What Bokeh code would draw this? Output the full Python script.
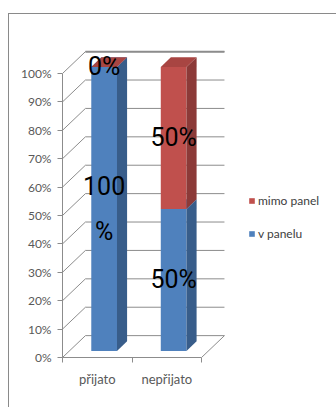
from bokeh.plotting import figure
from bokeh.models import (Range1d, FixedTicker, NumeralTickFormatter, Legend, LegendItem,
                          InlineStyleSheet)
from bokeh.core.properties import value
from bokeh.embed import file_html
from bokeh.resources import INLINE

# ---- data ----
categories = ["přijato", "nepřijato"]
series_names = ["v panelu", "mimo panel"]
v_panelu = [1.0, 0.5]
mimo_panel = [0.0, 0.5]
y_ticks = [0.0, 0.1, 0.2, 0.3, 0.4, 0.5, 0.6, 0.7, 0.8, 0.9, 1.0]

# ---- styles ----
FRONT = {"v panelu": "#4F81BD", "mimo panel": "#C0504D"}
SIDE = {"v panelu": "#385D8A", "mimo panel": "#8C3A38"}
TOP = {"v panelu": "#5A8AC6", "mimo panel": "#A84542"}
GRID = "#8C8C8C"
DX, DY = 0.33, 0.077      # wall depth (data units)
F1, F2 = 0.30, 0.74       # bar front/back depth fractions
BW = 0.37                 # bar width
LABEL_FONT = value("Roboto")

p = figure(width=336, height=407, output_backend="svg", toolbar_location=None,
           x_range=Range1d(0, 3.942), y_range=Range1d(0, 1.1514),
           min_border_left=62, min_border_right=0, min_border_top=30, min_border_bottom=50)
p.outline_line_color = None
p.grid.visible = False
p.background_fill_color = "white"
p.border_fill_color = "white"

n = len(categories)

# ---- walls & floor ----
wx0, wy0, wx1, wy1 = [], [], [], []
for v in y_ticks:
    wx0.append(0); wy0.append(v); wx1.append(DX); wy1.append(v + DY)            # side wall diagonal
for v in y_ticks:
    wx0.append(DX); wy0.append(v + DY); wx1.append(n + DX); wy1.append(v + DY)  # back wall gridline
wx0.append(n); wy0.append(0); wx1.append(n + DX); wy1.append(DY)               # floor right edge
p.segment(wx0, wy0, wx1, wy1, line_color=GRID, line_width=1)
p.segment([DX], [y_ticks[-1] + DY], [n + DX], [y_ticks[-1] + DY], line_color=GRID, line_width=2)

# ---- bars ----
legend_r = {}
labels = []
bottoms = [0.0] * n
for name, vals in [("v panelu", v_panelu), ("mimo panel", mimo_panel)]:
    left, right, bot, top = [], [], [], []
    side_xs, side_ys, top_xs, top_ys = [], [], [], []
    for i, v in enumerate(vals):
        c = i + 0.5
        b0, t0 = bottoms[i], bottoms[i] + v
        xl, xr = c - BW / 2, c + BW / 2
        left.append(xl + F1 * DX); right.append(xr + F1 * DX)
        bot.append(b0 + F1 * DY); top.append(t0 + F1 * DY)
        side_xs.append([xr + F1 * DX, xr + F2 * DX, xr + F2 * DX, xr + F1 * DX])
        side_ys.append([b0 + F1 * DY, b0 + F2 * DY, t0 + F2 * DY, t0 + F1 * DY])
        top_xs.append([xl + F1 * DX, xr + F1 * DX, xr + F2 * DX, xl + F2 * DX])
        top_ys.append([t0 + F1 * DY, t0 + F1 * DY, t0 + F2 * DY, t0 + F2 * DY])
        txt = f"{v * 100:.0f}%"
        if v >= 1:
            txt = txt[:-1] + "\n%"
        labels.append((c + F1 * DX, (b0 + t0) / 2 + F1 * DY, txt))
        bottoms[i] = t0
    r = p.quad(left=left, right=right, bottom=bot, top=top, fill_color=FRONT[name], line_color=None)
    p.patches(side_xs, side_ys, fill_color=SIDE[name], line_color=None)
    p.patches(top_xs, top_ys, fill_color=TOP[name], line_color=None)
    legend_r[name] = r

p.text(x=[l[0] for l in labels], y=[l[1] for l in labels], text=[l[2] for l in labels],
       text_align="center", text_baseline="middle",
       text_font=LABEL_FONT, text_font_size="25px", text_color="black", text_line_height=1.55)

# ---- axes ----
ya = p.yaxis[0]
ya.ticker = FixedTicker(ticks=y_ticks)
ya.formatter = NumeralTickFormatter(format="0%")
ya.bounds = (0, 1)
ya.axis_line_color = GRID
ya.major_tick_line_color = GRID
ya.major_tick_out = 5
ya.major_tick_in = 0
ya.minor_tick_line_color = None
ya.major_label_standoff = 6
ya.major_label_text_font = "Lato"
ya.major_label_text_font_size = "12px"
ya.major_label_text_color = "#595959"

xa = p.xaxis[0]
xa.ticker = FixedTicker(ticks=[i + 0.5 for i in range(n)], minor_ticks=list(range(n + 1)))
xa.major_label_overrides = {i + 0.5: c for i, c in enumerate(categories)}
xa.bounds = (0, n)
xa.axis_line_color = GRID
xa.major_tick_line_color = None
xa.major_tick_out = 0
xa.major_tick_in = 0
xa.minor_tick_line_color = GRID
xa.minor_tick_out = 5
xa.minor_tick_in = 0
xa.major_label_standoff = 8
xa.major_label_text_font = "Lato"
xa.major_label_text_font_size = "13px"
xa.major_label_text_color = "#595959"

# ---- legend ----
legend = Legend(items=[LegendItem(label="mimo panel", renderers=[legend_r["mimo panel"]]),
                       LegendItem(label="v panelu", renderers=[legend_r["v panelu"]])],
                location=(186, 116), orientation="vertical",
                glyph_width=7, glyph_height=7, label_height=14, spacing=18,
                label_standoff=3, padding=0, margin=0,
                label_text_font="Lato", label_text_font_size="12px", label_text_color="#404040",
                border_line_color=None, background_fill_alpha=0)
p.add_layout(legend, "center")

# ---- outer chart-area border (CSS overlay) ----
p.stylesheets = [InlineStyleSheet(css="""
:host { position: relative; }
:host::after {
  content: ""; position: absolute; left: 8px; top: 13px; right: 0; bottom: 0;
  border-top: 1.5px solid #8A8A8A; border-left: 1.5px solid #8A8A8A;
  pointer-events: none; box-sizing: border-box;
}
""")]

open("out.html", "w").write(file_html(p, INLINE))
